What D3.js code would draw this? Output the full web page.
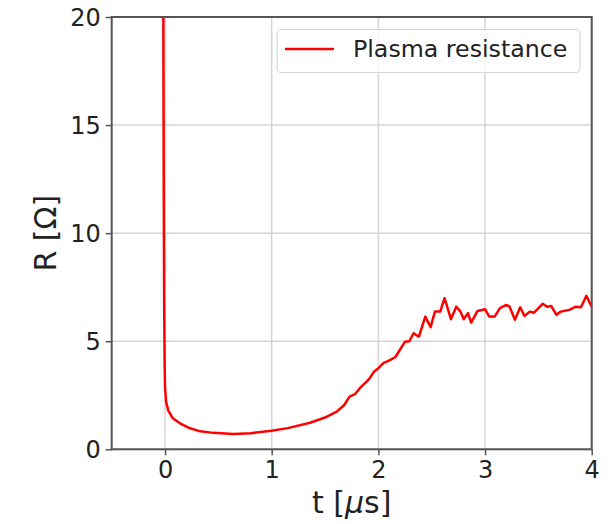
<!DOCTYPE html>
<html>
<head>
<meta charset="utf-8">
<script src="https://cdn.jsdelivr.net/npm/d3@7"></script>
<style>
body { margin: 0; background: #fff; }
text { font-family: "DejaVu Sans", sans-serif; fill: #222; }
</style>
</head>
<body>
<script>
// time in microseconds, resistance in ohms
var times = [-0.02, -0.016, -0.012, -0.008, -0.004, 0.0, 0.01, 0.03, 0.07, 0.14, 0.22, 0.33, 0.45, 0.64, 0.8, 1.0,
	1.15, 1.36, 1.5, 1.61, 1.68, 1.73, 1.78, 1.83, 1.89, 1.92, 1.96, 2.0, 2.05, 2.1, 2.16, 2.25, 2.29, 2.33,
	2.38, 2.44, 2.49, 2.53, 2.58, 2.62, 2.64, 2.68, 2.73, 2.77, 2.8, 2.84, 2.87, 2.93, 3.0, 3.04, 3.09,
	3.14, 3.2, 3.23, 3.28, 3.33, 3.37, 3.42, 3.46, 3.54, 3.58, 3.62, 3.67, 3.71, 3.79, 3.85, 3.9, 3.95, 4.0];
var resistance = [30, 20, 12, 6.5, 4.0, 2.9, 2.2, 1.8, 1.45, 1.2, 1.0, 0.83, 0.76, 0.71, 0.74, 0.86,
	0.98, 1.23, 1.47, 1.74, 2.05, 2.44, 2.55, 2.85, 3.13, 3.3, 3.6, 3.75, 4.0, 4.1, 4.27, 4.98, 5.0, 5.37,
	5.21, 6.14, 5.65, 6.37, 6.37, 6.99, 6.68, 6.02, 6.6, 6.37, 6.02, 6.3, 5.86, 6.4, 6.48, 6.14, 6.14,
	6.53, 6.68, 6.6, 5.99, 6.57, 6.17, 6.37, 6.32, 6.73, 6.6, 6.63, 6.22, 6.37, 6.45, 6.6, 6.57, 7.1, 6.6];
var xTicks = [0, 1, 2, 3, 4];
var yTicks = [0, 5, 10, 15, 20];
var seriesName = 'Plasma resistance';

var svg = d3.select('body').append('svg')
	.attr('width', 613)
	.attr('height', 524);

var pLeft = 111.7, pRight = 591.7, pTop = 17, pBottom = 449.3;

var x = d3.scaleLinear().domain([-0.5, 4]).range([pLeft, pRight]);
var y = d3.scaleLinear().domain([0, 20]).range([pBottom, pTop]);

// grid
svg.append('g').selectAll('line').data(xTicks).enter().append('line')
	.attr('x1', d => x(d)).attr('x2', d => x(d))
	.attr('y1', pTop).attr('y2', pBottom)
	.attr('stroke', '#d4d4d4').attr('stroke-width', 1.5);
svg.append('g').selectAll('line').data(yTicks).enter().append('line')
	.attr('x1', pLeft).attr('x2', pRight)
	.attr('y1', d => y(d)).attr('y2', d => y(d))
	.attr('stroke', '#d4d4d4').attr('stroke-width', 1.5);

// curve
svg.append('clipPath').attr('id', 'clip')
	.append('rect').attr('x', pLeft).attr('y', pTop)
	.attr('width', pRight - pLeft).attr('height', pBottom - pTop);

var pts = times.map((t, i) => [t, resistance[i]]);
var line = d3.line().x(d => x(d[0])).y(d => y(d[1]));

svg.append('path')
	.datum(pts)
	.attr('clip-path', 'url(#clip)')
	.attr('d', line)
	.attr('fill', 'none')
	.attr('stroke', '#ff0000')
	.attr('stroke-width', 2.5)
	.attr('stroke-linejoin', 'round');

// axes
var xAxis = svg.append('g')
	.attr('transform', 'translate(0,' + pBottom + ')')
	.call(d3.axisBottom(x).tickValues(xTicks).tickSize(6).tickPadding(6).tickFormat(d3.format('d')));
var yAxis = svg.append('g')
	.attr('transform', 'translate(' + pLeft + ',0)')
	.call(d3.axisLeft(y).tickValues(yTicks).tickSize(6).tickPadding(5).tickFormat(d3.format('d')));

[xAxis, yAxis].forEach(function(g) {
	g.selectAll('text').style('font-size', '24px').attr('fill', '#222');
	g.selectAll('line').attr('stroke', '#555').attr('stroke-width', 1.5);
	g.select('.domain').remove();
});
yAxis.selectAll('text').attr('dy', '0.36em');

// spines
svg.append('rect')
	.attr('x', pLeft).attr('y', pTop)
	.attr('width', pRight - pLeft).attr('height', pBottom - pTop)
	.attr('fill', 'none').attr('stroke', '#555').attr('stroke-width', 2);

// labels
var xl = svg.append('text')
	.attr('x', (pLeft + pRight) / 2).attr('y', 513)
	.attr('text-anchor', 'middle')
	.style('font-size', '30px');
xl.append('tspan').text('t [');
xl.append('tspan').style('font-style', 'italic').text('μ');
xl.append('tspan').text('s]');

svg.append('text')
	.attr('transform', 'translate(56,' + ((pTop + pBottom) / 2) + ') rotate(-90)')
	.attr('text-anchor', 'middle')
	.style('font-size', '30px')
	.text('R [Ω]');

// legend
var lg = svg.append('g');
lg.append('rect')
	.attr('x', 277).attr('y', 29.5)
	.attr('width', 303).attr('height', 43)
	.attr('rx', 4)
	.attr('fill', 'rgba(255,255,255,0.8)')
	.attr('stroke', '#d6d6d6').attr('stroke-width', 1.2);
lg.append('line')
	.attr('x1', 285).attr('x2', 334)
	.attr('y1', 49).attr('y2', 49)
	.attr('stroke', '#ff0000').attr('stroke-width', 2.5);
lg.append('text')
	.attr('x', 353).attr('y', 57)
	.style('font-size', '23.7px')
	.text(seriesName);
</script>
</body>
</html>
